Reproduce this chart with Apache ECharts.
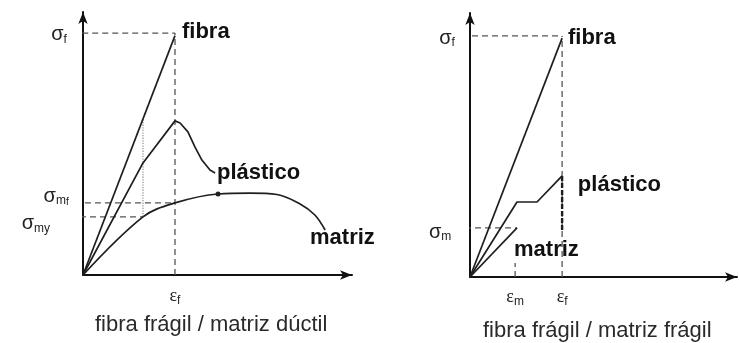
<!DOCTYPE html>
<html>
<head>
<meta charset="utf-8">
<script src="https://cdn.jsdelivr.net/npm/echarts@6/dist/echarts.min.js"></script>
<style>
  html, body { margin: 0; padding: 0; background: #fff; }
  #chart { width: 739px; height: 343px; }
</style>
</head>
<body>
<div id="chart"></div>
<script>
// left panel: fibra frágil / matriz dúctil (strain, stress in arbitrary units 0..100)
const leftFibra = [[0, 0], [34.2, 91]];
const leftPlastico = [[0, 0], [22.3, 42.6], [34.2, 58.6], [36.1, 57.8], [39, 54.4], [41.6, 48.7], [44.2, 43.7], [47.2, 39.9], [49.1, 38.8]];
const leftMatriz = [[0, 0], [22.3, 22.1], [34.2, 27.4], [50.2, 30.8], [62, 31.1], [72.1, 30.6], [80.7, 27], [86.2, 22.8], [90, 17.1]];
const leftEpsF = 34.2;
const leftSigF = 92;
const leftSigMf = 27.4;
const leftSigMy = 22.1;

// right panel: fibra frágil / matriz frágil
const rightFibra = [[0, 0], [34.5, 90.5]];
const rightPlastico = [[0, 0], [17.6, 28.4], [25.1, 28.4], [34.5, 38.3], [34.5, 17]];
const rightMatriz = [[0, 0], [17.6, 18.6]];
const rightEpsF = 34.5;
const rightEpsM = 16.9;
const rightSigF = 91.3;
const rightSigM = 18.6;

// annotation anchors [x, y, text]
const leftNotes = [
  [-8.9, 91.3, '{s|σ}{sub|f}'],
  [-10, 30, '{s|σ}{sub|m}{sub2|f}'],
  [-17.5, 19.4, '{s|σ}{sub|my}'],
  [34.2, -8, '{e|ε}{sub|f}']
];
const leftNames = [
  [36.8, 92.4, 'fibra'],
  [49.8, 38.8, 'plástico'],
  [84.4, 14.1, 'matriz']
];
const rightNotes = [
  [-8.6, 90.5, '{s|σ}{sub|f}'],
  [-11.2, 17, '{s|σ}{sub|m}'],
  [16.9, -7.6, '{e|ε}{sub|m}'],
  [34.5, -7.6, '{e|ε}{sub|f}']
];
const rightNames = [
  [36.7, 90.5, 'fibra'],
  [40.4, 34.8, 'plástico'],
  [16.5, 10.2, 'matriz']
];
const titles = ['fibra frágil / matriz dúctil', 'fibra frágil / matriz frágil'];

const chart = echarts.init(document.getElementById('chart'), null, { renderer: 'canvas' });

const FONT = 'Liberation Sans, Arial, sans-serif';
const richStyle = {
  s: { fontSize: 20, fontFamily: FONT, color: '#222', lineHeight: 22 },
  e: { fontSize: 18, fontFamily: 'Liberation Serif, serif', color: '#222', lineHeight: 22 },
  sub: { fontSize: 12, fontFamily: FONT, color: '#222', verticalAlign: 'bottom', lineHeight: 12, padding: [10, 0, 0, 0] },
  sub2: { fontSize: 10, fontFamily: FONT, color: '#222', verticalAlign: 'bottom', lineHeight: 10, padding: [18, 0, 0, 0] }
};

function axisPair(grid) {
  const axisLine = {
    show: true,
    onZero: false,
    symbol: ['none', 'arrow'],
    symbolSize: [7, 12],
    lineStyle: { color: '#111', width: 2 }
  };
  const base = {
    type: 'value', gridIndex: grid, min: 0, max: 100,
    axisLine: axisLine, axisTick: { show: false },
    axisLabel: { show: false }, splitLine: { show: false }
  };
  return [base, Object.assign({}, base)];
}

function curve(grid, data, opts) {
  return Object.assign({
    type: 'line', xAxisIndex: grid, yAxisIndex: grid, data: data,
    symbol: 'none', clip: false, silent: true, animation: false,
    lineStyle: { color: '#1e1e1e', width: 1.7 }
  }, opts || {});
}

function guide(grid, data, type, color) {
  return curve(grid, data, {
    lineStyle: { color: color || '#555', width: 1.3, type: type || [6, 4] },
    z: 1
  });
}

function notes(grid, items, bold) {
  return {
    type: 'scatter', xAxisIndex: grid, yAxisIndex: grid, silent: true,
    symbolSize: 0, clip: false, animation: false,
    itemStyle: { opacity: 1 },
    data: items.map(d => ({ value: [d[0], d[1]], name: d[2] })),
    label: bold ? {
      show: true, position: 'inside', align: 'left', verticalAlign: 'middle',
      formatter: p => p.name,
      fontFamily: FONT, fontWeight: 'bold', fontSize: 22, color: '#111'
    } : {
      show: true, position: 'inside', align: 'center', verticalAlign: 'middle',
      formatter: p => p.name, rich: richStyle
    }
  };
}

const [lx, ly] = axisPair(0);
const [rx, ry] = axisPair(1);

const option = {
  backgroundColor: '#fff',
  animation: false,
  title: [
    { text: titles[0], left: 90, top: 309, textStyle: { fontFamily: FONT, fontWeight: 'normal', fontSize: 22, color: '#2a2a2a' } },
    { text: titles[1], left: 478, top: 315, textStyle: { fontFamily: FONT, fontWeight: 'normal', fontSize: 22, color: '#2a2a2a' } }
  ],
  grid: [
    { left: 83, top: 12, width: 269, height: 263 },
    { left: 470, top: 13, width: 267, height: 264 }
  ],
  xAxis: [lx, rx],
  yAxis: [ly, ry],
  series: [
    // left guides
    guide(0, [[-4, leftSigF], [leftEpsF, leftSigF]]),
    guide(0, [[leftEpsF, 0], [leftEpsF, leftSigF]]),
    guide(0, [[-3, leftSigMf], [leftEpsF, leftSigMf]]),
    guide(0, [[-16, leftSigMy], [leftMatriz[1][0], leftSigMy]]),
    guide(0, [[leftMatriz[1][0], leftSigMy], [leftMatriz[1][0], leftFibra[1][1] * leftMatriz[1][0] / leftFibra[1][0]]], 'dotted', '#999'),
    // left curves
    curve(0, leftFibra),
    curve(0, leftPlastico),
    curve(0, leftMatriz, { smooth: 0.35 }),
    {
      type: 'scatter', xAxisIndex: 0, yAxisIndex: 0, silent: true, animation: false,
      data: [leftMatriz[3]], symbolSize: 5, itemStyle: { color: '#222', opacity: 1 }
    },
    notes(0, leftNotes, false),
    notes(0, leftNames, true),
    // right guides
    guide(1, [[-3, rightSigF], [rightEpsF, rightSigF]]),
    guide(1, [[rightEpsF, 0], [rightEpsF, rightSigF]]),
    guide(1, [[-5.6, rightSigM], [rightMatriz[1][0], rightSigM]]),
    guide(1, [[rightEpsM, 0], [rightEpsM, 5.3]]),
    // right curves
    curve(1, rightFibra),
    curve(1, rightPlastico.slice(0, 4)),
    curve(1, rightPlastico.slice(3), { lineStyle: { color: '#1e1e1e', width: 2.4, type: [5, 2] } }),
    curve(1, rightMatriz),
    notes(1, rightNotes, false),
    notes(1, rightNames, true)
  ]
};

chart.setOption(option);
</script>
</body>
</html>
